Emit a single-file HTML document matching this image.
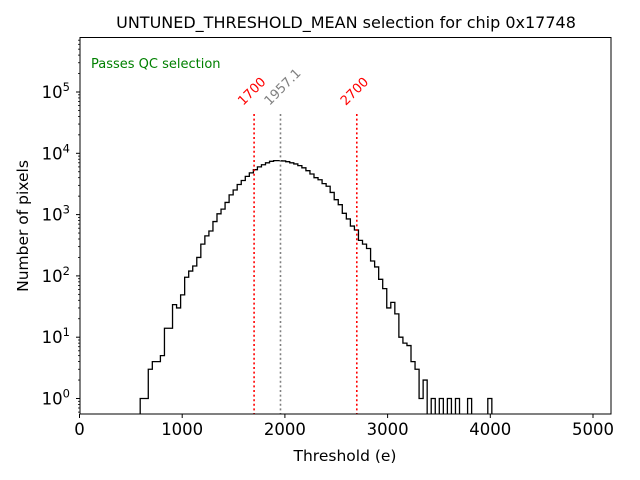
<!DOCTYPE html>
<html><head><meta charset="utf-8"><style>
body{margin:0;background:#fff}
svg{display:block;font-family:"DejaVu Sans","Liberation Sans",sans-serif}
</style></head><body>
<svg id="chart" width="640" height="480" viewBox="0 0 640 480">
<rect width="640" height="480" fill="#fff"/>
<g id="plot"></g>
</svg>
<script>
const binStart = 591;
const binEnd = 4015;
const counts = [1,1,3,4,4,5,14,14,34,30,49,95,120,145,200,330,450,540,770,1030,1230,1580,2100,2520,3100,3600,4200,4800,5400,6000,6500,7000,7400,7600,7600,
7500,7300,7000,6700,6300,5800,5200,4600,4000,3700,3200,2900,2300,1750,1450,1050,850,650,560,380,330,280,175,140,88,62,30,37,24,10,8,7.3,4,3,1,2,0,1,0,1,0,1,0,1,0,0,1,0,0,0,0,1];
const xTicks = [0,1000,2000,3000,4000,5000];
const yTickExps = [0,1,2,3,4,5];
const cutLow = 1700, cutHigh = 2700, meanVal = 1957.1;

const NS="http://www.w3.org/2000/svg";
const L=80,R=611,T=37.5,B=414;
const xs=v=>79.5+v*0.1027;
const ys=v=>153.3-(Math.log10(v)-4)*61.3;
const g=document.getElementById('plot');
function mk(tag,at,txt){const e=document.createElementNS(NS,tag);for(const k in at)e.setAttribute(k,at[k]);if(txt!==undefined)e.textContent=txt;g.appendChild(e);return e;}

const w=(binEnd-binStart)/counts.length;
let d='';
counts.forEach((c,i)=>{
  const x0=xs(binStart+i*w),x1=xs(binStart+(i+1)*w);
  const y=c>0?ys(c):B+5;
  d+=(i===0?'M'+x0+','+B:'')+' L'+x0+','+y+' L'+x1+','+y;
});
d+=' L'+xs(binEnd)+','+B;
const clip=mk('clipPath',{id:'pc'});
const cr=document.createElementNS(NS,'rect');cr.setAttribute('x',L);cr.setAttribute('y',T);cr.setAttribute('width',R-L);cr.setAttribute('height',B-T);clip.appendChild(cr);
const hist=mk('path',{d:d,fill:'none',stroke:'#000','stroke-width':1.3,'clip-path':'url(#pc)'});



[[cutLow,'red','cut-low-line'],[meanVal,'gray','mean-line'],[cutHigh,'red','cut-high-line']].forEach(([v,c,n])=>{
  const ln=mk('line',{x1:xs(v),x2:xs(v),y1:114,y2:B,stroke:c,'stroke-width':1.6,'stroke-dasharray':'2,2.6'});
  
  
  const t=mk('text',{x:xs(v)-11,y:106,fill:c,'font-size':13,transform:'rotate(-45 '+(xs(v)-11)+' 106)'},n==='mean-line'?String(meanVal):String(v));
  
  
});

const fr=mk('rect',{x:L,y:T,width:R-L,height:B-T,fill:'none',stroke:'#000','stroke-width':1});



xTicks.forEach(v=>{
  mk('line',{x1:xs(v),x2:xs(v),y1:B,y2:B+4,stroke:'#000'});
  const t=mk('text',{x:xs(v),y:B+21,'font-size':16.5,'text-anchor':'middle'},String(v));
  
  
});
yTickExps.forEach(e=>{
  const y=ys(Math.pow(10,e));
  mk('line',{x1:L-4,x2:L,y1:y,y2:y,stroke:'#000'});
  const t=mk('text',{x:L-10,y:y+6,'font-size':16.5,'text-anchor':'end'});
  
  
  t.innerHTML='10<tspan dy="-7" font-size="11.5">'+e+'</tspan>';
  for(let m=2;m<10;m++){
    const yy=ys(m*Math.pow(10,e));
    if(yy>T&&yy<B) mk('line',{x1:L-2,x2:L,y1:yy,y2:yy,stroke:'#000','stroke-width':0.8});
  }
});
for(let m=5;m<10;m++){const yy=ys(m*0.1);if(yy<B)mk('line',{x1:L-2,x2:L,y1:yy,y2:yy,stroke:'#000','stroke-width':0.8});}

let t;
t=mk('text',{x:346,y:28,'font-size':16,'text-anchor':'middle'},'UNTUNED_THRESHOLD_MEAN selection for chip 0x17748');

t=mk('text',{x:345,y:461,'font-size':15.5,'text-anchor':'middle'},'Threshold (e)');

t=mk('text',{x:28,y:226,'font-size':15.5,'text-anchor':'middle',transform:'rotate(-90 28 226)'},'Number of pixels');

t=mk('text',{x:91,y:68,'font-size':13,fill:'green'},'Passes QC selection');

</script>
</body></html>
